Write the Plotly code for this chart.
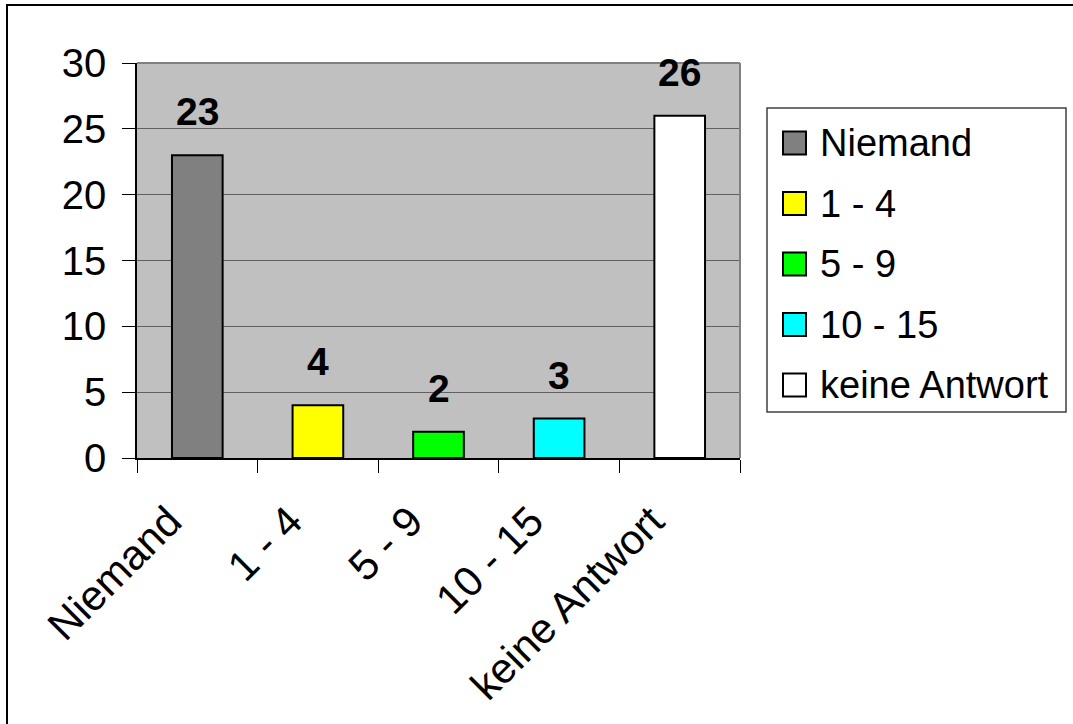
import plotly.graph_objects as go

# Survey answers per group
categories = ["Niemand", "1 - 4", "5 - 9", "10 - 15", "keine Antwort"]
counts = [23, 4, 2, 3, 26]
bar_colors = ["#808080", "#FFFF00", "#00FF00", "#00FFFF", "#FFFFFF"]
y_ticks = [0, 5, 10, 15, 20, 25, 30]

W, H = 1073, 724
ML, MR, MT, MB = 137, 333, 63, 266
PW, PH = W - ML - MR, H - MT - MB
FONT = "Liberation Sans, Arial, sans-serif"


def px_x(x):
    return (x - ML) / PW


def px_y(y):
    return (H - MB - y) / PH


fig = go.Figure()
for cat, val, col in zip(categories, counts, bar_colors):
    fig.add_trace(go.Bar(
        x=[cat], y=[val], name=cat, width=0.42,
        marker=dict(color=col, line=dict(color="#000000", width=2)),
        showlegend=False,
    ))

annotations = []
# value labels above the bars
for cat, val in zip(categories, counts):
    annotations.append(dict(
        x=cat, y=val, xref="x", yref="y", text=f"<b>{val}</b>",
        showarrow=False, yanchor="bottom", yshift=20,
        font=dict(family=FONT, size=39, color="#000000"),
    ))

shapes = [
    # outer chart frame
    dict(type="rect", xref="paper", yref="paper",
         x0=px_x(7), y0=px_y(H + 20), x1=px_x(W + 20), y1=px_y(5),
         line=dict(color="#000000", width=2), fillcolor="rgba(0,0,0,0)", layer="below"),
    # plot area top and right border
    dict(type="line", xref="paper", yref="paper", x0=0, x1=1, y0=1, y1=1,
         line=dict(color="#808080", width=2)),
    dict(type="line", xref="paper", yref="paper", x0=1, x1=1, y0=0, y1=1,
         line=dict(color="#808080", width=2)),
    # legend box
    dict(type="rect", xref="paper", yref="paper",
         x0=px_x(767), y0=px_y(412), x1=px_x(1066), y1=px_y(108),
         line=dict(color="#404040", width=1.5), fillcolor="#FFFFFF"),
]

# legend entries
for i, (cat, col) in enumerate(zip(categories, bar_colors)):
    cy = 143 + i * 60.5
    shapes.append(dict(
        type="rect", xref="paper", yref="paper",
        x0=px_x(783), x1=px_x(806), y0=px_y(cy + 11.5), y1=px_y(cy - 11.5),
        line=dict(color="#000000", width=2), fillcolor=col,
    ))
    annotations.append(dict(
        x=px_x(818), y=px_y(cy), xref="paper", yref="paper", text=cat,
        showarrow=False, xanchor="left", yanchor="middle",
        font=dict(family=FONT, size=38, color="#000000"),
    ))

fig.update_layout(
    width=W, height=H,
    margin=dict(l=ML, r=MR, t=MT, b=MB, pad=0, autoexpand=False),
    paper_bgcolor="#FFFFFF", plot_bgcolor="#C0C0C0",
    font=dict(family=FONT, size=40, color="#000000"),
    bargap=0.58,
    shapes=shapes, annotations=annotations,
    showlegend=False,
)
fig.update_xaxes(
    type="category", categoryorder="array", categoryarray=categories,
    tickangle=-45, ticks="outside", ticklen=13, tickwidth=1, tickcolor="#000000",
    tickson="boundaries", showline=True, linecolor="#000000", linewidth=1.5,
    showgrid=False, tickfont=dict(family=FONT, size=42), automargin=False,
    ticklabelstandoff=20, ticklabelshift=-28,
)
fig.update_yaxes(
    range=[0, 30], tickvals=y_ticks, ticks="outside", ticklen=13, tickwidth=1,
    tickcolor="#000000", showline=True, linecolor="#000000", linewidth=1.5,
    showgrid=True, gridcolor="#606060", gridwidth=1, zeroline=False,
    tickfont=dict(family=FONT, size=40), ticklabelstandoff=8, automargin=False,
)

fig.write_html("out.html")
